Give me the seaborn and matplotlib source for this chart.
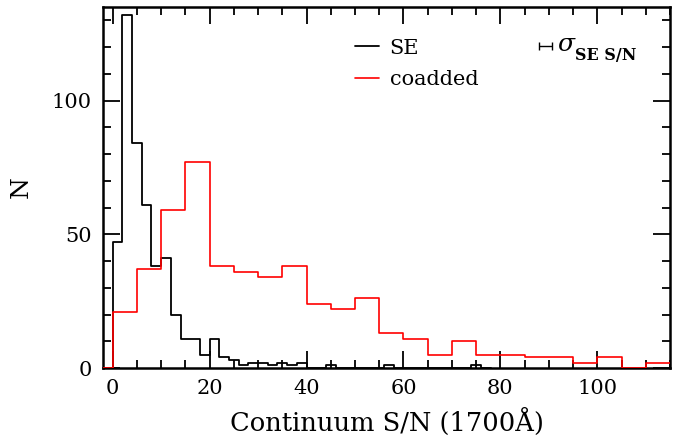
import numpy as np
import pandas as pd
import matplotlib
matplotlib.use("Agg")
import matplotlib.pyplot as plt
import seaborn as sns

# single-exposure S/N histogram, 2-unit bins starting at -2 (first bin empty)
se_edges = list(range(-2, 80, 2))
se_counts = [0, 47, 132, 84, 61, 38, 41, 20, 11, 11, 5, 11, 4, 3, 1, 2, 2, 1, 2, 1, 2,
             0, 0, 1, 0, 0, 0, 0, 0, 1, 0, 0, 0, 0, 0, 0, 0, 0, 1, 0]

# coadded S/N histogram, 5-unit bins starting at -5 (first bin empty)
co_edges = list(range(-5, 120, 5))
co_counts = [0, 21, 37, 59, 77, 38, 36, 34, 38, 24, 22, 26, 13, 11, 5, 10, 5, 5, 4, 4,
             2, 4, 0, 2]

# sigma marker in the corner
sigma_x = 89.3
sigma_y = 120.5
sigma_half = 1.3

sns.set_style("ticks", {"axes.edgecolor": "black", "xtick.color": "black",
                        "ytick.color": "black", "text.color": "black",
                        "axes.labelcolor": "black"})
plt.rcParams['font.family'] = ['DejaVu Serif']
plt.rcParams['mathtext.fontset'] = 'dejavuserif'

se_e = np.array(se_edges, dtype=float)
co_e = np.array(co_edges, dtype=float)
se = pd.DataFrame({"sn": (se_e[:-1] + se_e[1:]) / 2, "n": se_counts})
co = pd.DataFrame({"sn": (co_e[:-1] + co_e[1:]) / 2, "n": co_counts})

fig = plt.figure(figsize=(6.84, 4.45), dpi=100)
ax = fig.add_axes([0.1506, 0.173, 0.9795 - 0.1506, 0.9843 - 0.173])

sns.histplot(data=se, x="sn", weights="n", bins=se_edges, element="step", fill=False,
             color="black", linewidth=1.3, ax=ax, label="SE", zorder=3)
sns.histplot(data=co, x="sn", weights="n", bins=co_edges, element="step", fill=False,
             color="red", linewidth=1.2, ax=ax, label="coadded", zorder=3)

ax.errorbar([sigma_x], [sigma_y], xerr=[sigma_half], color="black", capsize=3,
            elinewidth=1.0, capthick=1.0)
ax.text(sigma_x + 2.3, sigma_y + 0.5, r"$\sigma$", fontsize=18, va="center", ha="left")
ax.text(sigma_x + 6.2, sigma_y - 3.5, "SE S/N", fontsize=11.5, va="center", ha="left",
        fontweight="bold")

ax.set_xlim(-2, 115)
ax.set_ylim(0, 135)
ax.set_xticks([0, 20, 40, 60, 80, 100])
ax.set_yticks([0, 50, 100])
ax.xaxis.set_minor_locator(matplotlib.ticker.MultipleLocator(5))
ax.yaxis.set_minor_locator(matplotlib.ticker.MultipleLocator(10))
ax.tick_params(which="both", direction="in", top=True, right=True, width=1.3,
               labelsize=15, color="black")
ax.tick_params(which="major", length=12, pad=8)
ax.tick_params(which="minor", length=6)
for sp in ax.spines.values():
    sp.set_linewidth(1.8)
    sp.set_color("black")

ax.set_xlabel("Continuum S/N (1700Å)", fontsize=18.5, labelpad=7)
ax.set_ylabel("N", fontsize=18, labelpad=14)

ax.legend(loc="upper left", bbox_to_anchor=(0.43, 0.935), frameon=False, fontsize=15,
          handlelength=1.15, handletextpad=0.5, labelspacing=0.6, borderaxespad=0)

fig.savefig("out.png", dpi=100)
